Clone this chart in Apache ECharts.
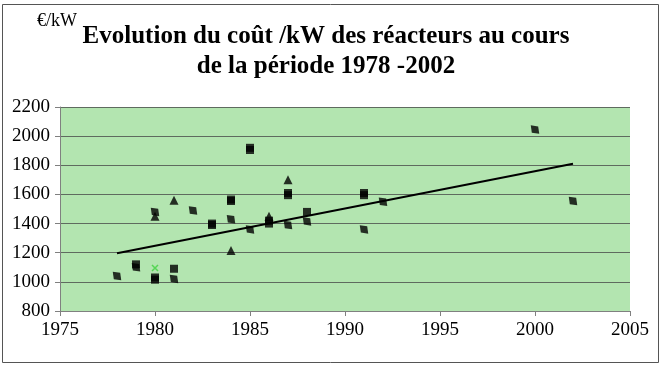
<!DOCTYPE html>
<html><head><meta charset="utf-8">
<script src="https://cdn.jsdelivr.net/npm/echarts@6/dist/echarts.min.js"></script>
<style>html,body{margin:0;padding:0;background:#fff}#c{width:661px;height:366px}</style>
</head><body><div id="c"></div>
<script>
const xTicks = [1975, 1980, 1985, 1990, 1995, 2000, 2005];
const yTicks = [800, 1000, 1200, 1400, 1600, 1800, 2000, 2200];
const diamonds = [[1978,1040],[1979,1100],[1980,1480],[1981,1020],[1982,1490],[1984,1430],[1985,1360],[1987,1390],[1988,1415],[1991,1360],[1992,1550],[2000,2045],[2002,1555]];
const squares = [[1979,1120],[1980,1030],[1980,1015],[1981,1090],[1983,1400],[1983,1390],[1984,1565],[1984,1555],[1985,1920],[1985,1905],[1986,1420],[1986,1400],[1987,1610],[1987,1595],[1988,1480],[1991,1610],[1991,1595]];
const triangles = [[1980,1450],[1981,1560],[1984,1215],[1986,1450],[1987,1700]];
const crosses = [[1980,1095]];
const trend = [[1978,1196],[2002,1810]];

const chart = echarts.init(document.getElementById('c'));
const serif = '"Liberation Serif","DejaVu Serif",serif';
const crossPath = 'path://M0,0L1,1M1,0L0,1';
chart.setOption({
  animation: false,
  backgroundColor: '#fff',
  title: {
    text: 'Evolution du coût /kW des réacteurs au cours\nde la période 1978 -2002',
    left: 321, textAlign: 'center', top: 17,
    textStyle: {fontFamily: serif, fontWeight: 'bold', fontSize: 25, lineHeight: 30, color: '#000'}
  },
  graphic: [
    {type: 'rect', shape: {x: 2.5, y: 4.5, width: 656, height: 358}, style: {fill: 'none', stroke: '#555', lineWidth: 1}, z: -1},
    {type: 'text', left: 37, top: 12, style: {text: '€/kW', font: '18px ' + serif, fill: '#000'}}
  ],
  grid: {left: 60, right: 31, top: 107, bottom: 55, show: true, backgroundColor: '#b3e5b0', borderWidth: 0},
  xAxis: {
    type: 'value', min: 1975, max: 2005, interval: 5,
    axisLine: {show: true, onZero: false, lineStyle: {color: '#808080'}},
    axisTick: {show: true, length: 5, lineStyle: {color: '#808080'}},
    splitLine: {show: false},
    axisLabel: {fontFamily: serif, fontSize: 19, color: '#000', margin: 10,
      formatter: v => xTicks.includes(v) ? String(v) : ''}
  },
  yAxis: {
    type: 'value', min: 800, max: 2200, interval: 200,
    axisLine: {show: true, lineStyle: {color: '#808080'}},
    axisTick: {show: true, length: 5, lineStyle: {color: '#808080'}},
    splitLine: {show: true, lineStyle: {color: '#5f6b5f', width: 1}},
    axisLabel: {fontFamily: serif, fontSize: 19, color: '#000', margin: 10,
      formatter: v => yTicks.includes(v) ? String(v) : ''}
  },
  series: [
    {type: 'line', data: trend, symbol: 'none', lineStyle: {color: '#000', width: 2}, z: 3},
    {type: 'scatter', data: diamonds, symbol: 'diamond', symbolSize: [9, 12], symbolRotate: 45, itemStyle: {color: '#000'}, z: 4},
    {type: 'scatter', data: squares, symbol: 'rect', symbolSize: 8, itemStyle: {color: '#000'}, z: 4},
    {type: 'scatter', data: triangles, symbol: 'triangle', symbolSize: 9, itemStyle: {color: '#000'}, z: 4},
    {type: 'scatter', data: crosses, symbol: crossPath, symbolSize: 6, itemStyle: {color: 'none', borderColor: '#3fd13f', borderWidth: 1.5}, z: 5}
  ]
});
</script></body></html>
